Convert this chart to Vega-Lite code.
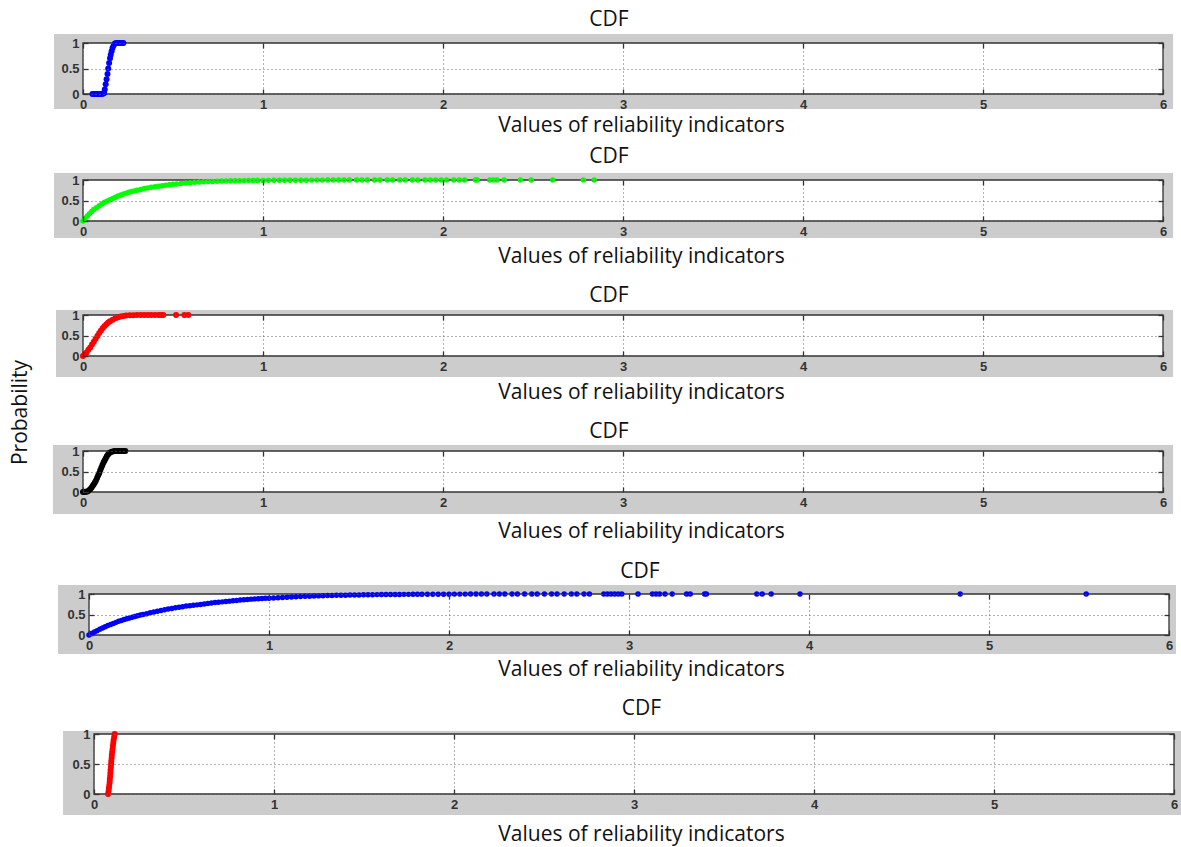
{
  "$schema": "https://vega.github.io/schema/vega-lite/v6.json",
  "padding": {"left": 9, "top": 9, "right": 0, "bottom": 2},
  "title": {"text": "Probability", "orient": "left", "anchor": "middle", "offset": 22, "dx": 14, "fontSize": 21},
  "datasets": {
    "p1": [{"x":0.052,"y":0},{"x":0.06,"y":0},{"x":0.068,"y":0},{"x":0.076,"y":0},{"x":0.084,"y":0},{"x":0.092,"y":0},{"x":0.1,"y":0},{"x":0.108,"y":0.005},{"x":0.113,"y":0.01},{"x":0.117,"y":0.02},{"x":0.121,"y":0.09},{"x":0.126,"y":0.19},{"x":0.131,"y":0.29},{"x":0.136,"y":0.39},{"x":0.14,"y":0.5},{"x":0.145,"y":0.61},{"x":0.15,"y":0.7},{"x":0.154,"y":0.77},{"x":0.159,"y":0.84},{"x":0.164,"y":0.9},{"x":0.17,"y":0.95},{"x":0.177,"y":0.99},{"x":0.185,"y":1},{"x":0.193,"y":1},{"x":0.201,"y":1},{"x":0.209,"y":1},{"x":0.217,"y":1},{"x":0.224,"y":1}],
    "p2": [{"x":0,"y":0},{"x":0.012,"y":0.065},{"x":0.024,"y":0.125},{"x":0.036,"y":0.18},{"x":0.048,"y":0.23},{"x":0.06,"y":0.28},{"x":0.075,"y":0.325},{"x":0.09,"y":0.37},{"x":0.105,"y":0.415},{"x":0.12,"y":0.455},{"x":0.135,"y":0.49},{"x":0.15,"y":0.52},{"x":0.165,"y":0.55},{"x":0.18,"y":0.58},{"x":0.195,"y":0.61},{"x":0.21,"y":0.635},{"x":0.225,"y":0.66},{"x":0.24,"y":0.68},{"x":0.255,"y":0.7},{"x":0.27,"y":0.72},{"x":0.285,"y":0.735},{"x":0.3,"y":0.75},{"x":0.32,"y":0.77},{"x":0.34,"y":0.79},{"x":0.36,"y":0.808},{"x":0.38,"y":0.825},{"x":0.4,"y":0.838},{"x":0.42,"y":0.85},{"x":0.44,"y":0.862},{"x":0.46,"y":0.873},{"x":0.48,"y":0.885},{"x":0.5,"y":0.895},{"x":0.52,"y":0.905},{"x":0.545,"y":0.915},{"x":0.57,"y":0.925},{"x":0.595,"y":0.935},{"x":0.62,"y":0.943},{"x":0.645,"y":0.95},{"x":0.67,"y":0.956},{"x":0.695,"y":0.961},{"x":0.72,"y":0.966},{"x":0.745,"y":0.97},{"x":0.77,"y":0.973},{"x":0.795,"y":0.976},{"x":0.82,"y":0.979},{"x":0.845,"y":0.981},{"x":0.87,"y":0.983},{"x":0.895,"y":0.985},{"x":0.92,"y":0.987},{"x":0.945,"y":0.988},{"x":0.97,"y":0.989},{"x":1.0,"y":0.99},{"x":1.03,"y":0.991},{"x":1.06,"y":0.992},{"x":1.09,"y":0.993},{"x":1.12,"y":0.994},{"x":1.15,"y":0.995},{"x":1.18,"y":0.995},{"x":1.21,"y":0.996},{"x":1.24,"y":0.996},{"x":1.27,"y":0.997},{"x":1.3,"y":0.997},{"x":1.33,"y":0.997},{"x":1.36,"y":0.998},{"x":1.39,"y":0.998},{"x":1.42,"y":0.998},{"x":1.45,"y":0.998},{"x":1.48,"y":0.999},{"x":1.52,"y":0.999},{"x":1.55,"y":0.999},{"x":1.58,"y":0.999},{"x":1.62,"y":0.999},{"x":1.65,"y":0.999},{"x":1.69,"y":0.999},{"x":1.72,"y":0.999},{"x":1.76,"y":0.999},{"x":1.79,"y":0.999},{"x":1.83,"y":0.999},{"x":1.86,"y":0.999},{"x":1.9,"y":0.999},{"x":1.93,"y":0.999},{"x":1.96,"y":0.999},{"x":1.99,"y":0.999},{"x":2.02,"y":1},{"x":2.06,"y":1},{"x":2.09,"y":1},{"x":2.12,"y":1},{"x":2.18,"y":1},{"x":2.19,"y":1},{"x":2.26,"y":1},{"x":2.28,"y":1},{"x":2.3,"y":1},{"x":2.34,"y":1},{"x":2.43,"y":1},{"x":2.49,"y":1},{"x":2.61,"y":1},{"x":2.78,"y":1},{"x":2.84,"y":1}],
    "p3": [{"x":0,"y":0},{"x":0.01,"y":0.04},{"x":0.02,"y":0.085},{"x":0.03,"y":0.15},{"x":0.04,"y":0.21},{"x":0.05,"y":0.28},{"x":0.06,"y":0.35},{"x":0.07,"y":0.42},{"x":0.08,"y":0.49},{"x":0.09,"y":0.56},{"x":0.1,"y":0.62},{"x":0.11,"y":0.68},{"x":0.12,"y":0.73},{"x":0.13,"y":0.775},{"x":0.14,"y":0.815},{"x":0.15,"y":0.85},{"x":0.165,"y":0.885},{"x":0.18,"y":0.92},{"x":0.195,"y":0.945},{"x":0.21,"y":0.965},{"x":0.225,"y":0.978},{"x":0.24,"y":0.988},{"x":0.26,"y":0.993},{"x":0.28,"y":0.996},{"x":0.3,"y":0.998},{"x":0.32,"y":0.999},{"x":0.34,"y":1},{"x":0.36,"y":1},{"x":0.38,"y":1},{"x":0.4,"y":1},{"x":0.42,"y":1},{"x":0.435,"y":1},{"x":0.446,"y":1},{"x":0.517,"y":1},{"x":0.563,"y":1},{"x":0.585,"y":1}],
    "p4": [{"x":0,"y":0},{"x":0.008,"y":0},{"x":0.016,"y":0.005},{"x":0.024,"y":0.015},{"x":0.032,"y":0.035},{"x":0.04,"y":0.065},{"x":0.047,"y":0.105},{"x":0.054,"y":0.15},{"x":0.06,"y":0.19},{"x":0.066,"y":0.23},{"x":0.072,"y":0.28},{"x":0.078,"y":0.34},{"x":0.084,"y":0.4},{"x":0.09,"y":0.46},{"x":0.096,"y":0.53},{"x":0.102,"y":0.6},{"x":0.108,"y":0.66},{"x":0.114,"y":0.72},{"x":0.12,"y":0.77},{"x":0.126,"y":0.82},{"x":0.132,"y":0.87},{"x":0.139,"y":0.915},{"x":0.147,"y":0.95},{"x":0.156,"y":0.975},{"x":0.165,"y":0.99},{"x":0.175,"y":0.997},{"x":0.185,"y":1},{"x":0.195,"y":1},{"x":0.205,"y":1},{"x":0.215,"y":1},{"x":0.225,"y":1},{"x":0.235,"y":1}],
    "p5": [{"x":0,"y":0},{"x":0.015,"y":0.038},{"x":0.03,"y":0.072},{"x":0.045,"y":0.105},{"x":0.06,"y":0.14},{"x":0.075,"y":0.17},{"x":0.09,"y":0.2},{"x":0.105,"y":0.23},{"x":0.12,"y":0.255},{"x":0.135,"y":0.282},{"x":0.15,"y":0.308},{"x":0.165,"y":0.333},{"x":0.18,"y":0.355},{"x":0.195,"y":0.378},{"x":0.21,"y":0.398},{"x":0.225,"y":0.415},{"x":0.24,"y":0.433},{"x":0.255,"y":0.451},{"x":0.27,"y":0.469},{"x":0.285,"y":0.486},{"x":0.3,"y":0.5},{"x":0.32,"y":0.52},{"x":0.34,"y":0.545},{"x":0.36,"y":0.563},{"x":0.38,"y":0.58},{"x":0.4,"y":0.6},{"x":0.42,"y":0.616},{"x":0.44,"y":0.632},{"x":0.46,"y":0.648},{"x":0.48,"y":0.665},{"x":0.5,"y":0.678},{"x":0.52,"y":0.69},{"x":0.54,"y":0.705},{"x":0.56,"y":0.715},{"x":0.58,"y":0.725},{"x":0.6,"y":0.735},{"x":0.62,"y":0.745},{"x":0.64,"y":0.757},{"x":0.66,"y":0.77},{"x":0.68,"y":0.78},{"x":0.7,"y":0.79},{"x":0.72,"y":0.8},{"x":0.74,"y":0.808},{"x":0.76,"y":0.817},{"x":0.78,"y":0.826},{"x":0.8,"y":0.835},{"x":0.82,"y":0.844},{"x":0.84,"y":0.852},{"x":0.86,"y":0.86},{"x":0.88,"y":0.868},{"x":0.9,"y":0.875},{"x":0.92,"y":0.881},{"x":0.94,"y":0.886},{"x":0.96,"y":0.89},{"x":0.98,"y":0.894},{"x":1.0,"y":0.897},{"x":1.025,"y":0.902},{"x":1.05,"y":0.908},{"x":1.075,"y":0.914},{"x":1.1,"y":0.92},{"x":1.125,"y":0.926},{"x":1.15,"y":0.932},{"x":1.175,"y":0.938},{"x":1.2,"y":0.943},{"x":1.225,"y":0.947},{"x":1.25,"y":0.95},{"x":1.275,"y":0.954},{"x":1.3,"y":0.958},{"x":1.325,"y":0.961},{"x":1.35,"y":0.964},{"x":1.375,"y":0.967},{"x":1.4,"y":0.97},{"x":1.425,"y":0.972},{"x":1.45,"y":0.975},{"x":1.475,"y":0.977},{"x":1.5,"y":0.978},{"x":1.525,"y":0.98},{"x":1.55,"y":0.982},{"x":1.575,"y":0.984},{"x":1.6,"y":0.985},{"x":1.625,"y":0.986},{"x":1.65,"y":0.987},{"x":1.675,"y":0.988},{"x":1.7,"y":0.989},{"x":1.725,"y":0.99},{"x":1.75,"y":0.991},{"x":1.775,"y":0.991},{"x":1.8,"y":0.992},{"x":1.825,"y":0.992},{"x":1.85,"y":0.993},{"x":1.88,"y":0.994},{"x":1.91,"y":0.995},{"x":1.94,"y":0.995},{"x":1.97,"y":0.996},{"x":2.0,"y":0.996},{"x":2.03,"y":0.997},{"x":2.06,"y":0.997},{"x":2.09,"y":0.997},{"x":2.12,"y":0.998},{"x":2.15,"y":0.998},{"x":2.18,"y":0.998},{"x":2.21,"y":0.998},{"x":2.25,"y":0.998},{"x":2.28,"y":0.999},{"x":2.31,"y":0.999},{"x":2.35,"y":0.999},{"x":2.38,"y":0.999},{"x":2.42,"y":0.999},{"x":2.46,"y":0.999},{"x":2.49,"y":0.999},{"x":2.53,"y":0.999},{"x":2.57,"y":0.999},{"x":2.6,"y":0.999},{"x":2.64,"y":0.999},{"x":2.68,"y":0.999},{"x":2.71,"y":0.999},{"x":2.75,"y":0.999},{"x":2.78,"y":0.999},{"x":2.86,"y":1},{"x":2.88,"y":1},{"x":2.9,"y":1},{"x":2.92,"y":1},{"x":2.94,"y":1},{"x":2.96,"y":1},{"x":3.05,"y":1},{"x":3.13,"y":1},{"x":3.15,"y":1},{"x":3.17,"y":1},{"x":3.2,"y":1},{"x":3.24,"y":1},{"x":3.32,"y":1},{"x":3.34,"y":1},{"x":3.42,"y":1},{"x":3.43,"y":1},{"x":3.71,"y":1},{"x":3.74,"y":1},{"x":3.79,"y":1},{"x":3.95,"y":1},{"x":4.84,"y":1},{"x":5.54,"y":1}],
    "p6": [{"x":0.078,"y":0},{"x":0.081,"y":0.05},{"x":0.083,"y":0.1},{"x":0.085,"y":0.15},{"x":0.087,"y":0.2},{"x":0.088,"y":0.25},{"x":0.09,"y":0.3},{"x":0.091,"y":0.35},{"x":0.092,"y":0.4},{"x":0.094,"y":0.45},{"x":0.095,"y":0.5},{"x":0.096,"y":0.55},{"x":0.098,"y":0.6},{"x":0.099,"y":0.65},{"x":0.101,"y":0.7},{"x":0.103,"y":0.75},{"x":0.105,"y":0.8},{"x":0.107,"y":0.85},{"x":0.109,"y":0.9},{"x":0.112,"y":0.95},{"x":0.115,"y":1}]
  },
  "spacing": 10,
  "vconcat": [
    {
      "width": 1080, "height": 51,
      "title": {"text": "CDF", "dx": -14, "frame": "group", "offset": 4},
      "resolve": {"axis": {"x": "independent", "y": "independent"}},
      "layer": [
        {"data": {"values": [{}]}, "mark": {"type": "rect", "color": "#cccccc"}, "encoding": {"x": {"datum": -0.161, "type": "quantitative", "scale": {"domain": [0, 6]}, "axis": null}, "x2": {"datum": 0}, "y": {"datum": -0.294, "type": "quantitative", "scale": {"domain": [0, 1]}, "axis": null}, "y2": {"datum": 1.176}}},
        {"data": {"values": [{}]}, "mark": {"type": "rect", "color": "#cccccc"}, "encoding": {"x": {"datum": 6, "type": "quantitative", "scale": {"domain": [0, 6]}, "axis": null}, "x2": {"datum": 6.056}, "y": {"datum": -0.294, "type": "quantitative", "scale": {"domain": [0, 1]}, "axis": null}, "y2": {"datum": 1.176}}},
        {"data": {"values": [{}]}, "mark": {"type": "rect", "color": "#cccccc"}, "encoding": {"x": {"datum": 0, "type": "quantitative", "scale": {"domain": [0, 6]}, "axis": null}, "x2": {"datum": 6}, "y": {"datum": 1, "type": "quantitative", "scale": {"domain": [0, 1]}, "axis": null}, "y2": {"datum": 1.176}}},
        {"data": {"values": [{}]}, "mark": {"type": "rect", "color": "#cccccc"}, "encoding": {"x": {"datum": 0, "type": "quantitative", "scale": {"domain": [0, 6]}, "axis": null}, "x2": {"datum": 6}, "y": {"datum": -0.294, "type": "quantitative", "scale": {"domain": [0, 1]}, "axis": null}, "y2": {"datum": 0}}},
        {"data": {"values": [{}]}, "mark": {"type": "rect", "fill": "transparent", "stroke": "#333333", "strokeWidth": 1.3}, "encoding": {"x": {"datum": 0, "type": "quantitative", "scale": {"domain": [0, 6]}, "axis": {"orient": "top", "values": [0, 1, 2, 3, 4, 5, 6], "labels": false, "grid": false, "title": null, "zindex": 1}}, "x2": {"datum": 6}, "y": {"datum": 0, "type": "quantitative", "scale": {"domain": [0, 1]}, "axis": {"orient": "right", "values": [0, 0.5, 1], "labels": false, "grid": false, "title": null, "zindex": 1}}, "y2": {"datum": 1}}},
        {"data": {"name": "p1"}, "mark": {"type": "circle", "color": "#0000ff", "size": 36, "opacity": 1}, "encoding": {"x": {"field": "x", "type": "quantitative", "scale": {"domain": [0, 6]}, "axis": {"orient": "bottom", "grid": true, "zindex": 1, "values": [0, 1, 2, 3, 4, 5, 6], "format": "d", "labelPadding": 9, "title": "Values of reliability indicators", "titleX": 558, "titlePadding": 3}}, "y": {"field": "y", "type": "quantitative", "scale": {"domain": [0, 1]}, "axis": {"orient": "left", "grid": true, "zindex": 1, "values": [0, 0.5, 1], "format": "~g", "labelPadding": 9, "title": null}}}}
      ]
    },
    {
      "spacing": 19,
      "vconcat": [
        {
          "width": 1080, "height": 41,
          "title": {"text": "CDF", "dx": -14, "frame": "group", "offset": 6},
          "resolve": {"axis": {"x": "independent", "y": "independent"}},
          "layer": [
            {"data": {"values": [{}]}, "mark": {"type": "rect", "color": "#cccccc"}, "encoding": {"x": {"datum": -0.161, "type": "quantitative", "scale": {"domain": [0, 6]}, "axis": null}, "x2": {"datum": 0}, "y": {"datum": -0.415, "type": "quantitative", "scale": {"domain": [0, 1]}, "axis": null}, "y2": {"datum": 1.171}}},
            {"data": {"values": [{}]}, "mark": {"type": "rect", "color": "#cccccc"}, "encoding": {"x": {"datum": 6, "type": "quantitative", "scale": {"domain": [0, 6]}, "axis": null}, "x2": {"datum": 6.056}, "y": {"datum": -0.415, "type": "quantitative", "scale": {"domain": [0, 1]}, "axis": null}, "y2": {"datum": 1.171}}},
            {"data": {"values": [{}]}, "mark": {"type": "rect", "color": "#cccccc"}, "encoding": {"x": {"datum": 0, "type": "quantitative", "scale": {"domain": [0, 6]}, "axis": null}, "x2": {"datum": 6}, "y": {"datum": 1, "type": "quantitative", "scale": {"domain": [0, 1]}, "axis": null}, "y2": {"datum": 1.171}}},
            {"data": {"values": [{}]}, "mark": {"type": "rect", "color": "#cccccc"}, "encoding": {"x": {"datum": 0, "type": "quantitative", "scale": {"domain": [0, 6]}, "axis": null}, "x2": {"datum": 6}, "y": {"datum": -0.415, "type": "quantitative", "scale": {"domain": [0, 1]}, "axis": null}, "y2": {"datum": 0}}},
            {"data": {"values": [{}]}, "mark": {"type": "rect", "fill": "transparent", "stroke": "#333333", "strokeWidth": 1.3}, "encoding": {"x": {"datum": 0, "type": "quantitative", "scale": {"domain": [0, 6]}, "axis": {"orient": "top", "values": [0, 1, 2, 3, 4, 5, 6], "labels": false, "grid": false, "title": null, "zindex": 1}}, "x2": {"datum": 6}, "y": {"datum": 0, "type": "quantitative", "scale": {"domain": [0, 1]}, "axis": {"orient": "right", "values": [0, 0.5, 1], "labels": false, "grid": false, "title": null, "zindex": 1}}, "y2": {"datum": 1}}},
            {"data": {"name": "p2"}, "mark": {"type": "circle", "color": "#00ff00", "size": 30, "opacity": 1}, "encoding": {"x": {"field": "x", "type": "quantitative", "scale": {"domain": [0, 6]}, "axis": {"orient": "bottom", "grid": true, "zindex": 1, "values": [0, 1, 2, 3, 4, 5, 6], "format": "d", "labelPadding": 9, "title": "Values of reliability indicators", "titleX": 558, "titlePadding": 7}}, "y": {"field": "y", "type": "quantitative", "scale": {"domain": [0, 1]}, "axis": {"orient": "left", "grid": true, "zindex": 1, "values": [0, 0.5, 1], "format": "~g", "labelPadding": 9, "title": null}}}}
          ]
        },
        {
          "width": 1080, "height": 41,
          "title": {"text": "CDF", "dx": -14, "frame": "group", "offset": 3},
          "resolve": {"axis": {"x": "independent", "y": "independent"}},
          "layer": [
            {"data": {"values": [{}]}, "mark": {"type": "rect", "color": "#cccccc"}, "encoding": {"x": {"datum": -0.15, "type": "quantitative", "scale": {"domain": [0, 6]}, "axis": null}, "x2": {"datum": 0}, "y": {"datum": -0.512, "type": "quantitative", "scale": {"domain": [0, 1]}, "axis": null}, "y2": {"datum": 1.122}}},
            {"data": {"values": [{}]}, "mark": {"type": "rect", "color": "#cccccc"}, "encoding": {"x": {"datum": 6, "type": "quantitative", "scale": {"domain": [0, 6]}, "axis": null}, "x2": {"datum": 6.056}, "y": {"datum": -0.512, "type": "quantitative", "scale": {"domain": [0, 1]}, "axis": null}, "y2": {"datum": 1.122}}},
            {"data": {"values": [{}]}, "mark": {"type": "rect", "color": "#cccccc"}, "encoding": {"x": {"datum": 0, "type": "quantitative", "scale": {"domain": [0, 6]}, "axis": null}, "x2": {"datum": 6}, "y": {"datum": 1, "type": "quantitative", "scale": {"domain": [0, 1]}, "axis": null}, "y2": {"datum": 1.122}}},
            {"data": {"values": [{}]}, "mark": {"type": "rect", "color": "#cccccc"}, "encoding": {"x": {"datum": 0, "type": "quantitative", "scale": {"domain": [0, 6]}, "axis": null}, "x2": {"datum": 6}, "y": {"datum": -0.512, "type": "quantitative", "scale": {"domain": [0, 1]}, "axis": null}, "y2": {"datum": 0}}},
            {"data": {"values": [{}]}, "mark": {"type": "rect", "fill": "transparent", "stroke": "#333333", "strokeWidth": 1.3}, "encoding": {"x": {"datum": 0, "type": "quantitative", "scale": {"domain": [0, 6]}, "axis": {"orient": "top", "values": [0, 1, 2, 3, 4, 5, 6], "labels": false, "grid": false, "title": null, "zindex": 1}}, "x2": {"datum": 6}, "y": {"datum": 0, "type": "quantitative", "scale": {"domain": [0, 1]}, "axis": {"orient": "right", "values": [0, 0.5, 1], "labels": false, "grid": false, "title": null, "zindex": 1}}, "y2": {"datum": 1}}},
            {"data": {"name": "p3"}, "mark": {"type": "circle", "color": "#ff0000", "size": 36, "opacity": 1}, "encoding": {"x": {"field": "x", "type": "quantitative", "scale": {"domain": [0, 6]}, "axis": {"orient": "bottom", "grid": true, "zindex": 1, "values": [0, 1, 2, 3, 4, 5, 6], "format": "d", "labelPadding": 9, "title": "Values of reliability indicators", "titleX": 558, "titlePadding": 8}}, "y": {"field": "y", "type": "quantitative", "scale": {"domain": [0, 1]}, "axis": {"orient": "left", "grid": true, "zindex": 1, "values": [0, 0.5, 1], "format": "~g", "labelPadding": 9, "title": null}}}}
          ]
        },
        {
          "width": 1080, "height": 41,
          "title": {"text": "CDF", "dx": -14, "frame": "group", "offset": 3},
          "resolve": {"axis": {"x": "independent", "y": "independent"}},
          "layer": [
            {"data": {"values": [{}]}, "mark": {"type": "rect", "color": "#cccccc"}, "encoding": {"x": {"datum": -0.167, "type": "quantitative", "scale": {"domain": [0, 6]}, "axis": null}, "x2": {"datum": 0}, "y": {"datum": -0.537, "type": "quantitative", "scale": {"domain": [0, 1]}, "axis": null}, "y2": {"datum": 1.146}}},
            {"data": {"values": [{}]}, "mark": {"type": "rect", "color": "#cccccc"}, "encoding": {"x": {"datum": 6, "type": "quantitative", "scale": {"domain": [0, 6]}, "axis": null}, "x2": {"datum": 6.056}, "y": {"datum": -0.537, "type": "quantitative", "scale": {"domain": [0, 1]}, "axis": null}, "y2": {"datum": 1.146}}},
            {"data": {"values": [{}]}, "mark": {"type": "rect", "color": "#cccccc"}, "encoding": {"x": {"datum": 0, "type": "quantitative", "scale": {"domain": [0, 6]}, "axis": null}, "x2": {"datum": 6}, "y": {"datum": 1, "type": "quantitative", "scale": {"domain": [0, 1]}, "axis": null}, "y2": {"datum": 1.146}}},
            {"data": {"values": [{}]}, "mark": {"type": "rect", "color": "#cccccc"}, "encoding": {"x": {"datum": 0, "type": "quantitative", "scale": {"domain": [0, 6]}, "axis": null}, "x2": {"datum": 6}, "y": {"datum": -0.537, "type": "quantitative", "scale": {"domain": [0, 1]}, "axis": null}, "y2": {"datum": 0}}},
            {"data": {"values": [{}]}, "mark": {"type": "rect", "fill": "transparent", "stroke": "#333333", "strokeWidth": 1.3}, "encoding": {"x": {"datum": 0, "type": "quantitative", "scale": {"domain": [0, 6]}, "axis": {"orient": "top", "values": [0, 1, 2, 3, 4, 5, 6], "labels": false, "grid": false, "title": null, "zindex": 1}}, "x2": {"datum": 6}, "y": {"datum": 0, "type": "quantitative", "scale": {"domain": [0, 1]}, "axis": {"orient": "right", "values": [0, 0.5, 1], "labels": false, "grid": false, "title": null, "zindex": 1}}, "y2": {"datum": 1}}},
            {"data": {"name": "p4"}, "mark": {"type": "circle", "color": "#000000", "size": 36, "opacity": 1}, "encoding": {"x": {"field": "x", "type": "quantitative", "scale": {"domain": [0, 6]}, "axis": {"orient": "bottom", "grid": true, "zindex": 1, "values": [0, 1, 2, 3, 4, 5, 6], "format": "d", "labelPadding": 9, "title": "Values of reliability indicators", "titleX": 558, "titlePadding": 11}}, "y": {"field": "y", "type": "quantitative", "scale": {"domain": [0, 1]}, "axis": {"orient": "left", "grid": true, "zindex": 1, "values": [0, 0.5, 1], "format": "~g", "labelPadding": 9, "title": null}}}}
          ]
        },
        {
          "width": 1086, "height": 41,
          "title": {"text": "CDF", "dx": 14, "frame": "group", "offset": 3},
          "resolve": {"axis": {"x": "independent", "y": "independent"}},
          "layer": [
            {"data": {"values": [{}]}, "mark": {"type": "rect", "color": "#cccccc"}, "encoding": {"x": {"datum": -0.172, "type": "quantitative", "scale": {"domain": [0, 6], "range": [6, 1086]}, "axis": null}, "x2": {"datum": 0}, "y": {"datum": -0.463, "type": "quantitative", "scale": {"domain": [0, 1]}, "axis": null}, "y2": {"datum": 1.22}}},
            {"data": {"values": [{}]}, "mark": {"type": "rect", "color": "#cccccc"}, "encoding": {"x": {"datum": 6, "type": "quantitative", "scale": {"domain": [0, 6], "range": [6, 1086]}, "axis": null}, "x2": {"datum": 6.039}, "y": {"datum": -0.463, "type": "quantitative", "scale": {"domain": [0, 1]}, "axis": null}, "y2": {"datum": 1.22}}},
            {"data": {"values": [{}]}, "mark": {"type": "rect", "color": "#cccccc"}, "encoding": {"x": {"datum": 0, "type": "quantitative", "scale": {"domain": [0, 6], "range": [6, 1086]}, "axis": null}, "x2": {"datum": 6}, "y": {"datum": 1, "type": "quantitative", "scale": {"domain": [0, 1]}, "axis": null}, "y2": {"datum": 1.22}}},
            {"data": {"values": [{}]}, "mark": {"type": "rect", "color": "#cccccc"}, "encoding": {"x": {"datum": 0, "type": "quantitative", "scale": {"domain": [0, 6], "range": [6, 1086]}, "axis": null}, "x2": {"datum": 6}, "y": {"datum": -0.463, "type": "quantitative", "scale": {"domain": [0, 1]}, "axis": null}, "y2": {"datum": 0}}},
            {"data": {"values": [{}]}, "mark": {"type": "rect", "fill": "transparent", "stroke": "#333333", "strokeWidth": 1.3}, "encoding": {"x": {"datum": 0, "type": "quantitative", "scale": {"domain": [0, 6], "range": [6, 1086]}, "axis": {"orient": "top", "values": [0, 1, 2, 3, 4, 5, 6], "labels": false, "grid": false, "title": null, "zindex": 1}}, "x2": {"datum": 6}, "y": {"datum": 0, "type": "quantitative", "scale": {"domain": [0, 1]}, "axis": {"orient": "right", "values": [0, 0.5, 1], "labels": false, "grid": false, "title": null, "zindex": 1}}, "y2": {"datum": 1}}},
            {"data": {"name": "p5"}, "mark": {"type": "circle", "color": "#0000ff", "size": 30, "opacity": 1}, "encoding": {"x": {"field": "x", "type": "quantitative", "scale": {"domain": [0, 6], "range": [6, 1086]}, "axis": {"orient": "bottom", "grid": true, "zindex": 1, "values": [0, 1, 2, 3, 4, 5, 6], "format": "d", "labelPadding": 9, "title": "Values of reliability indicators", "titleX": 558, "titlePadding": 6}}, "y": {"field": "y", "type": "quantitative", "scale": {"domain": [0, 1]}, "axis": {"orient": "left", "offset": -6, "grid": true, "zindex": 1, "values": [0, 0.5, 1], "format": "~g", "labelPadding": 9, "title": null}}}}
          ]
        },
        {
          "width": 1091, "height": 60,
          "title": {"text": "CDF", "dx": 13, "frame": "group", "offset": 9},
          "resolve": {"axis": {"x": "independent", "y": "independent"}},
          "layer": [
            {"data": {"values": [{}]}, "mark": {"type": "rect", "color": "#cccccc"}, "encoding": {"x": {"datum": -0.172, "type": "quantitative", "scale": {"domain": [0, 6], "range": [11, 1091]}, "axis": null}, "x2": {"datum": 0}, "y": {"datum": -0.35, "type": "quantitative", "scale": {"domain": [0, 1]}, "axis": null}, "y2": {"datum": 1.05}}},
            {"data": {"values": [{}]}, "mark": {"type": "rect", "color": "#cccccc"}, "encoding": {"x": {"datum": 6, "type": "quantitative", "scale": {"domain": [0, 6], "range": [11, 1091]}, "axis": null}, "x2": {"datum": 6.04}, "y": {"datum": -0.35, "type": "quantitative", "scale": {"domain": [0, 1]}, "axis": null}, "y2": {"datum": 1.05}}},
            {"data": {"values": [{}]}, "mark": {"type": "rect", "color": "#cccccc"}, "encoding": {"x": {"datum": 0, "type": "quantitative", "scale": {"domain": [0, 6], "range": [11, 1091]}, "axis": null}, "x2": {"datum": 6}, "y": {"datum": 1, "type": "quantitative", "scale": {"domain": [0, 1]}, "axis": null}, "y2": {"datum": 1.05}}},
            {"data": {"values": [{}]}, "mark": {"type": "rect", "color": "#cccccc"}, "encoding": {"x": {"datum": 0, "type": "quantitative", "scale": {"domain": [0, 6], "range": [11, 1091]}, "axis": null}, "x2": {"datum": 6}, "y": {"datum": -0.35, "type": "quantitative", "scale": {"domain": [0, 1]}, "axis": null}, "y2": {"datum": 0}}},
            {"data": {"values": [{}]}, "mark": {"type": "rect", "fill": "transparent", "stroke": "#333333", "strokeWidth": 1.3}, "encoding": {"x": {"datum": 0, "type": "quantitative", "scale": {"domain": [0, 6], "range": [11, 1091]}, "axis": {"orient": "top", "values": [0, 1, 2, 3, 4, 5, 6], "labels": false, "grid": false, "title": null, "zindex": 1}}, "x2": {"datum": 6}, "y": {"datum": 0, "type": "quantitative", "scale": {"domain": [0, 1]}, "axis": {"orient": "right", "values": [0, 0.5, 1], "labels": false, "grid": false, "title": null, "zindex": 1}}, "y2": {"datum": 1}}},
            {"data": {"name": "p6"}, "mark": {"type": "circle", "color": "#ff0000", "size": 36, "opacity": 1}, "encoding": {"x": {"field": "x", "type": "quantitative", "scale": {"domain": [0, 6], "range": [11, 1091]}, "axis": {"orient": "bottom", "grid": true, "zindex": 1, "values": [0, 1, 2, 3, 4, 5, 6], "format": "d", "labelPadding": 9, "title": "Values of reliability indicators", "titleX": 558, "titlePadding": 12}}, "y": {"field": "y", "type": "quantitative", "scale": {"domain": [0, 1]}, "axis": {"orient": "left", "offset": -11, "grid": true, "zindex": 1, "values": [0, 0.5, 1], "format": "~g", "labelPadding": 9, "title": null}}}}
          ]
        }
      ]
    }
  ],
  "config": {
    "view": {"stroke": null},
    "font": "Open Sans",
    "title": {"font": "Open Sans", "fontSize": 21, "fontWeight": "normal", "color": "#111111"},
    "axis": {"labelFont": "Liberation Sans", "labelFontSize": 13, "labelFontWeight": "bold", "labelColor": "#333333", "labelFlush": false, "labelOverlap": false, "domain": false, "tickColor": "#333333", "tickSize": -5, "tickWidth": 1.3, "gridColor": "#666666", "gridDash": [1, 3], "gridWidth": 1, "titleFont": "Open Sans", "titleFontSize": 21, "titleFontWeight": "normal", "titleColor": "#111111"}
  }
}
